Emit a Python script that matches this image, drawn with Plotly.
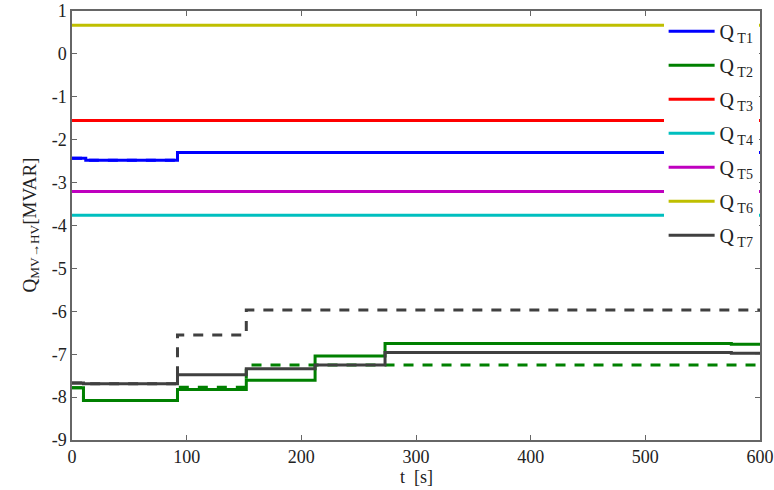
import plotly.graph_objects as go

# ---- data ----
t_T1 = [0, 12, 92, 600]
q_T1 = [-2.43, -2.48, -2.30, -2.29]
t_T1d = [0, 12, 92, 600]
q_T1d = [-2.43, -2.48, -2.30, -2.29]

t_T2 = [0, 10, 92, 152, 212, 273, 575, 600]
q_T2 = [-7.78, -8.08, -7.82, -7.61, -7.04, -6.75, -6.77, -6.77]
t_T2d = [0, 10, 92, 152, 600]
q_T2d = [-7.78, -8.08, -7.77, -7.25, -7.25]

t_T3 = [0, 600]
q_T3 = [-1.55, -1.55]
t_T4 = [0, 600]
q_T4 = [-3.76, -3.76]
t_T5 = [0, 600]
q_T5 = [-3.21, -3.21]
t_T6 = [0, 600]
q_T6 = [0.67, 0.67]

t_T7 = [0, 10, 92, 152, 212, 273, 575, 600]
q_T7 = [-7.67, -7.69, -7.48, -7.34, -7.25, -6.96, -6.98, -6.98]
t_T7d = [0, 10, 92, 150, 152, 600]
q_T7d = [-7.67, -7.69, -6.55, -6.51, -5.97, -5.97]

x_ticks = [0, 100, 200, 300, 400, 500, 600]
y_ticks = [1, 0, -1, -2, -3, -4, -5, -6, -7, -8, -9]

# ---- styles ----
C_BLUE = "#0000ff"
C_GREEN = "#008000"
C_RED = "#ff0000"
C_CYAN = "#00bfbf"
C_MAG = "#bf00bf"
C_YEL = "#bfbf00"
C_GRAY = "#404040"
DASH = "10px,9px"
W = 3

fig = go.Figure()

def add(t, q, color, name=None, dash="solid", group=None):
    fig.add_trace(go.Scatter(
        x=t, y=q, mode="lines", line_shape="hv",
        line=dict(color=color, width=W, dash=dash),
        name=name, showlegend=name is not None,
        legendgroup=group,
    ))

# dashed (behind)
add(t_T1d, q_T1d, C_BLUE, dash=DASH)
add(t_T2d, q_T2d, C_GREEN, dash=DASH)
add(t_T7d, q_T7d, C_GRAY, dash=DASH)

add(t_T1, q_T1, C_BLUE, "Q<sub> T1</sub>", group="g1")
add(t_T2, q_T2, C_GREEN, "Q<sub> T2</sub>", group="g2")
add(t_T3, q_T3, C_RED, "Q<sub> T3</sub>", group="g3")
add(t_T4, q_T4, C_CYAN, "Q<sub> T4</sub>", group="g4")
add(t_T5, q_T5, C_MAG, "Q<sub> T5</sub>", group="g5")
add(t_T6, q_T6, C_YEL, "Q<sub> T6</sub>", group="g6")
add(t_T7, q_T7, C_GRAY, "Q<sub> T7</sub>", group="g7")

FONT = "Liberation Serif, Times New Roman, Times, serif"

fig.update_layout(
    width=774, height=490,
    margin=dict(l=72, r=14, t=11, b=50, autoexpand=False),
    paper_bgcolor="white", plot_bgcolor="white",
    font=dict(family=FONT, size=18, color="#222"),
    showlegend=True,
    legend=dict(
        x=0.998, y=0.998, xanchor="right", yanchor="top",
        bgcolor="white", borderwidth=0,
        font=dict(family=FONT, size=20, color="#222"),
        tracegroupgap=5,
        itemwidth=46,
    ),
    xaxis=dict(
        range=[0, 600], tickvals=x_ticks, ticktext=[str(v) for v in x_ticks],
        showgrid=False, zeroline=False, automargin=False,
        showline=True, linecolor="#666", linewidth=1.5, mirror="ticks",
        ticks="inside", ticklen=5, tickcolor="#666",
    ),
    yaxis=dict(
        range=[-9, 1], tickvals=y_ticks, ticktext=[str(v) for v in y_ticks],
        showgrid=False, zeroline=False, automargin=False,
        showline=True, linecolor="#666", linewidth=1.5, mirror="ticks",
        ticks="inside", ticklen=5, tickcolor="#666",
    ),
    annotations=[
        dict(text="t  [s]", xref="paper", yref="paper", x=0.5, y=0,
             yshift=-37, xanchor="center", yanchor="middle", showarrow=False,
             font=dict(family=FONT, size=18, color="#222")),
        dict(text="Q<sub>MV\u2192HV</sub>[MVAR]", xref="paper", yref="paper",
             x=0, y=0.5, xshift=-42, xanchor="center", yanchor="middle",
             textangle=-90, showarrow=False,
             font=dict(family=FONT, size=19, color="#222")),
    ],
)

fig.write_html("out.html", config={"displayModeBar": False},
               post_script="document.body.style.margin='0';")
